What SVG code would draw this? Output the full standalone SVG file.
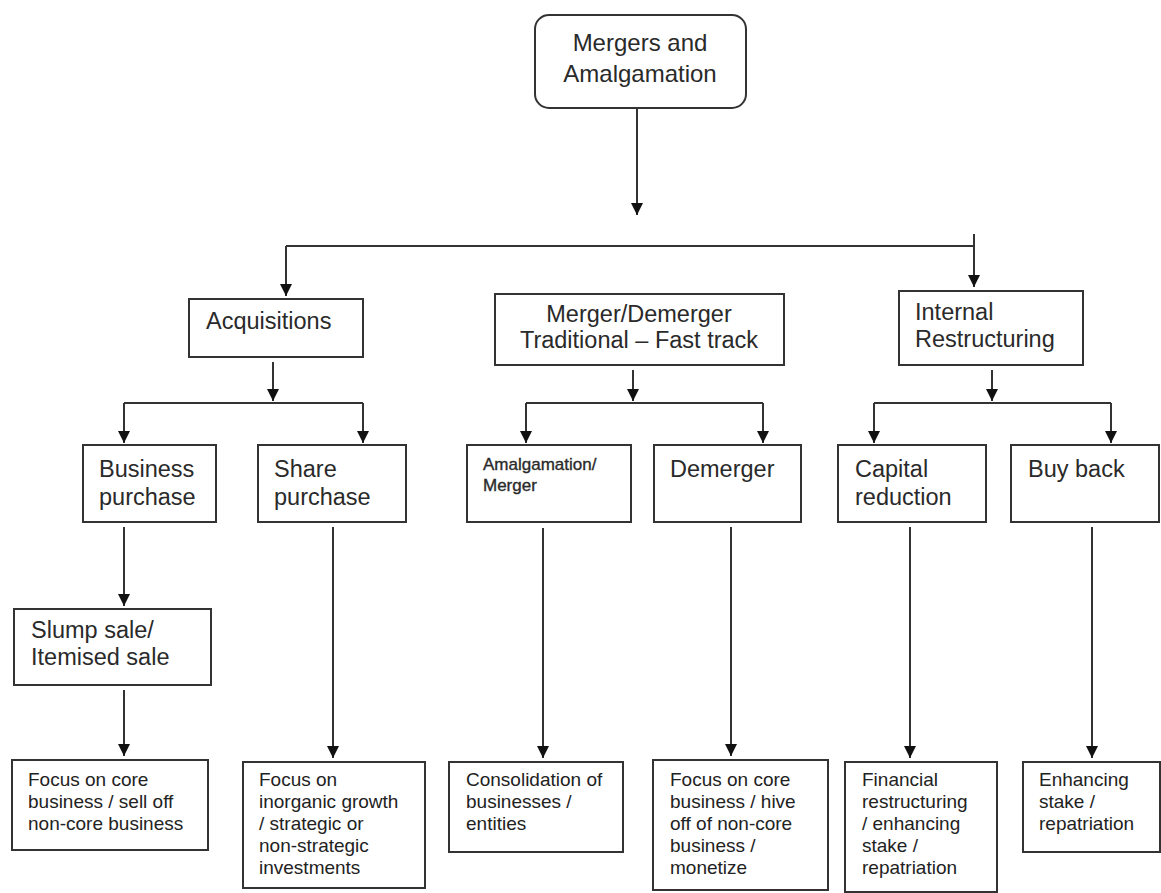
<svg xmlns="http://www.w3.org/2000/svg" width="1161" height="893" viewBox="0 0 1161 893">
<style>
.box{fill:#fff;stroke:#333;stroke-width:2}
.t{font-family:"Liberation Sans",Arial,sans-serif;font-size:23.5px;fill:#2a2a2a}
.top{font-size:24px}
.sm{font-size:17px;stroke:#2a2a2a;stroke-width:0.35px}
.s{font-family:"Liberation Sans",Arial,sans-serif;font-size:19px;fill:#222}
.c{fill:none;stroke:#333;stroke-width:2}
</style>
<defs>
<marker id="ah" markerWidth="12" markerHeight="12" refX="12" refY="6" orient="auto" markerUnits="userSpaceOnUse">
<path d="M0,0 L12,6 L0,12 z" fill="#111"/>
</marker>
</defs>
<rect width="1161" height="893" fill="#fff"/>
<g id="connectors">
<path class="c" d="M637,108 V215" marker-end="url(#ah)"/>
<path class="c" d="M286,246 H974"/>
<path class="c" d="M286,246 V296" marker-end="url(#ah)"/>
<path class="c" d="M974,234 V287" marker-end="url(#ah)"/>
<path class="c" d="M273,362 V401" marker-end="url(#ah)"/>
<path class="c" d="M124,403 H363"/>
<path class="c" d="M124,403 V443" marker-end="url(#ah)"/>
<path class="c" d="M363,403 V443" marker-end="url(#ah)"/>
<path class="c" d="M633,370 V401" marker-end="url(#ah)"/>
<path class="c" d="M526,403 H763"/>
<path class="c" d="M526,403 V443" marker-end="url(#ah)"/>
<path class="c" d="M763,403 V443" marker-end="url(#ah)"/>
<path class="c" d="M992,370 V401" marker-end="url(#ah)"/>
<path class="c" d="M874,403 H1111"/>
<path class="c" d="M874,403 V443" marker-end="url(#ah)"/>
<path class="c" d="M1111,403 V443" marker-end="url(#ah)"/>
<path class="c" d="M124,527 V606" marker-end="url(#ah)"/>
<path class="c" d="M124,690 V756" marker-end="url(#ah)"/>
<path class="c" d="M333,527 V758" marker-end="url(#ah)"/>
<path class="c" d="M543,528 V758" marker-end="url(#ah)"/>
<path class="c" d="M731,527 V756" marker-end="url(#ah)"/>
<path class="c" d="M910,527 V758" marker-end="url(#ah)"/>
<path class="c" d="M1092,527 V758" marker-end="url(#ah)"/>
</g>
<g id="root">
<rect class="box" x="535" y="15" width="211" height="93" rx="14"/>
<text class="t top" x="640" y="51" text-anchor="middle">Mergers and</text>
<text class="t top" x="640" y="82" text-anchor="middle">Amalgamation</text>
</g>
<g id="acquisitions">
<rect class="box" x="189" y="299" width="174" height="58"/>
<text class="t" x="206" y="329">Acquisitions</text>
</g>
<g id="merger-demerger">
<rect class="box" x="495" y="294" width="289" height="71"/>
<text class="t" x="639" y="322" text-anchor="middle">Merger/Demerger</text>
<text class="t" x="639" y="348" text-anchor="middle">Traditional – Fast track</text>
</g>
<g id="internal-restructuring">
<rect class="box" x="899" y="291" width="184" height="74"/>
<text class="t" x="915" y="320">Internal</text>
<text class="t" x="915" y="347">Restructuring</text>
</g>
<g id="business-purchase">
<rect class="box" x="83" y="445" width="133" height="77"/>
<text class="t" x="99" y="477">Business</text>
<text class="t" x="99" y="505">purchase</text>
</g>
<g id="share-purchase">
<rect class="box" x="258" y="445" width="148" height="77"/>
<text class="t" x="274" y="477">Share</text>
<text class="t" x="274" y="505">purchase</text>
</g>
<g id="amalgamation-merger">
<rect class="box" x="467" y="445" width="164" height="77"/>
<text class="t sm" x="483" y="470">Amalgamation/</text>
<text class="t sm" x="483" y="491">Merger</text>
</g>
<g id="demerger">
<rect class="box" x="654" y="445" width="147" height="77"/>
<text class="t" x="670" y="477">Demerger</text>
</g>
<g id="capital-reduction">
<rect class="box" x="838" y="445" width="148" height="77"/>
<text class="t" x="855" y="477">Capital</text>
<text class="t" x="855" y="505">reduction</text>
</g>
<g id="buy-back">
<rect class="box" x="1011" y="445" width="148" height="77"/>
<text class="t" x="1028" y="477">Buy back</text>
</g>
<g id="slump-sale">
<rect class="box" x="14" y="609" width="197" height="76"/>
<text class="t" x="31" y="638">Slump sale/</text>
<text class="t" x="31" y="665">Itemised sale</text>
</g>
<g id="out-business">
<rect class="box" x="12" y="760" width="196" height="90"/>
<text class="s" x="28" y="786">Focus on core</text>
<text class="s" x="28" y="808">business / sell off</text>
<text class="s" x="28" y="830">non-core business</text>
</g>
<g id="out-share">
<rect class="box" x="243" y="762" width="182" height="126"/>
<text class="s" x="259" y="786">Focus on</text>
<text class="s" x="259" y="808">inorganic growth</text>
<text class="s" x="259" y="830">/ strategic or</text>
<text class="s" x="259" y="852">non-strategic</text>
<text class="s" x="259" y="874">investments</text>
</g>
<g id="out-amalgamation">
<rect class="box" x="449" y="762" width="174" height="90"/>
<text class="s" x="466" y="786">Consolidation of</text>
<text class="s" x="466" y="808">businesses /</text>
<text class="s" x="466" y="830">entities</text>
</g>
<g id="out-demerger">
<rect class="box" x="653" y="760" width="175" height="130"/>
<text class="s" x="670" y="786">Focus on core</text>
<text class="s" x="670" y="808">business / hive</text>
<text class="s" x="670" y="830">off of non-core</text>
<text class="s" x="670" y="852">business /</text>
<text class="s" x="670" y="874">monetize</text>
</g>
<g id="out-capital">
<rect class="box" x="845" y="762" width="152" height="130"/>
<text class="s" x="862" y="786">Financial</text>
<text class="s" x="862" y="808">restructuring</text>
<text class="s" x="862" y="830">/ enhancing</text>
<text class="s" x="862" y="852">stake /</text>
<text class="s" x="862" y="874">repatriation</text>
</g>
<g id="out-buyback">
<rect class="box" x="1023" y="762" width="137" height="90"/>
<text class="s" x="1039" y="786">Enhancing</text>
<text class="s" x="1039" y="808">stake /</text>
<text class="s" x="1039" y="830">repatriation</text>
</g>
</svg>
